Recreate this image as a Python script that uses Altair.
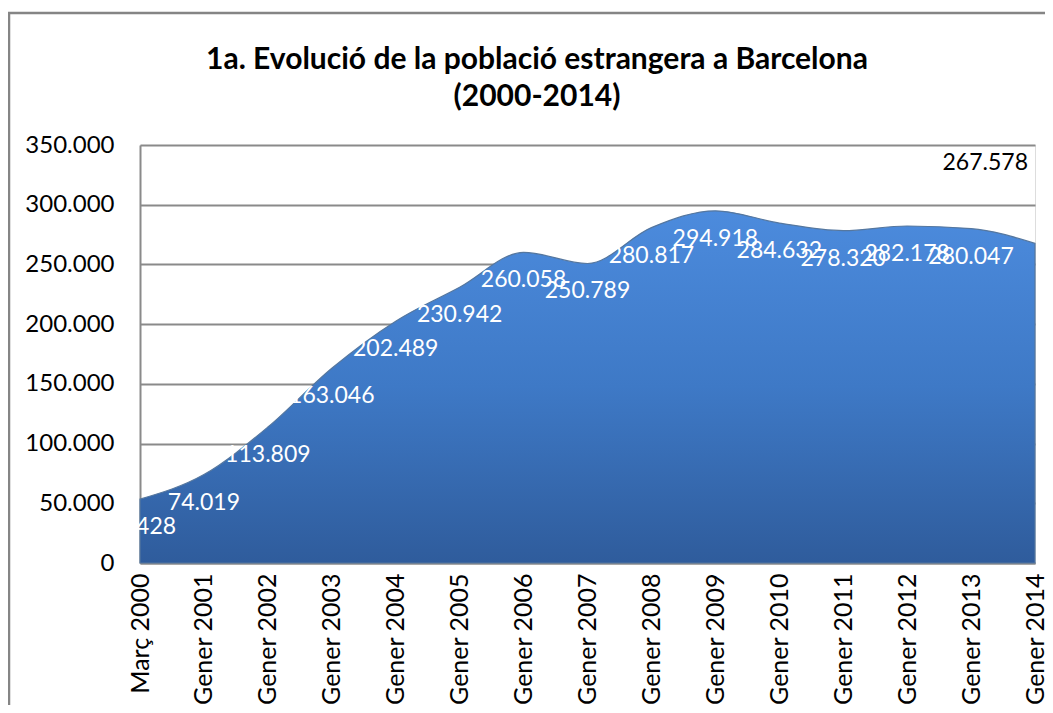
import altair as alt
import pandas as pd

periods = ["Març 2000", "Gener 2001", "Gener 2002", "Gener 2003", "Gener 2004",
           "Gener 2005", "Gener 2006", "Gener 2007", "Gener 2008", "Gener 2009",
           "Gener 2010", "Gener 2011", "Gener 2012", "Gener 2013", "Gener 2014"]
population = [53428, 74019, 113809, 163046, 202489, 230942, 260058, 250789,
              280817, 294918, 284632, 278320, 282178, 280047, 267578]
title_lines = ["1a. Evolució de la població estrangera a Barcelona", "(2000-2014)"]

df = pd.DataFrame({"periode": periods, "poblacio": population,
                   "last": [False] * (len(periods) - 1) + [True]})

FONT = "Lato"

x_enc = alt.X("periode:N", sort=None,
              scale=alt.Scale(type="point", padding=0),
              axis=alt.Axis(title=None, labelAngle=-90, labelFontSize=25,
                            labelFont=FONT, labelColor="black", labelPadding=10,
                            ticks=False, domainColor="#8a8a8a", domainWidth=2,
                            grid=False))
y_enc = alt.Y("poblacio:Q",
              scale=alt.Scale(domain=[0, 350000], nice=False),
              axis=alt.Axis(title=None, values=[0, 50000, 100000, 150000, 200000,
                                                250000, 300000, 350000],
                            format=",d", labelFontSize=24, labelFont=FONT,
                            labelColor="black", labelPadding=26, ticks=False,
                            domainColor="#8a8a8a", domainWidth=2,
                            gridColor="#8a8a8a", gridWidth=2))

base = alt.Chart(df).encode(x=x_enc, y=y_enc)

area = base.mark_area(
    color=alt.Gradient(gradient="linear",
                       stops=[alt.GradientStop(color="#4C8BDD", offset=0),
                              alt.GradientStop(color="#3E79C6", offset=0.5),
                              alt.GradientStop(color="#2F5C9C", offset=1)],
                       x1=0, x2=0, y1=0, y2=1),
    stroke="#55779f", strokeWidth=1.2, interpolate="monotone")

labels = base.mark_text(font=FONT, fontSize=23, color="white",
                        align="center", baseline="middle", dy=28).encode(
    text=alt.Text("poblacio:Q", format=",d")
).transform_filter("!datum.last")

last_label = base.mark_text(font=FONT, fontSize=23, color="black",
                            align="right", baseline="middle", dx=-7, dy=-80).encode(
    text=alt.Text("poblacio:Q", format=",d")
).transform_filter("datum.last")

title1 = alt.Chart(pd.DataFrame({"t": [title_lines[0]]})).mark_text(
    font=FONT, fontSize=30, fontWeight="bold", color="black",
    align="center", baseline="middle"
).encode(text="t:N", x=alt.value(397), y=alt.value(-85))

title2 = alt.Chart(pd.DataFrame({"t": [title_lines[1]]})).mark_text(
    font=FONT, fontSize=30, fontWeight="bold", color="black",
    align="center", baseline="middle"
).encode(text="t:N", x=alt.value(397), y=alt.value(-48))

border = alt.Chart(pd.DataFrame({"a": [0]})).mark_rect(
    fill=None, stroke="#858585", strokeWidth=2.5
).encode(x=alt.value(-131), x2=alt.value(940), y=alt.value(-132), y2=alt.value(640))

chart = alt.layer(area, labels, last_label, title1, title2, border).properties(
    width=895, height=418,
    autosize=alt.AutoSizeParams(type="none"),
    padding={"left": 132, "top": 137, "right": 10, "bottom": 142}
).configure_view(stroke=None).configure(
    locale={"number": {"decimal": ",", "thousands": ".", "grouping": [3],
                       "currency": ["", " €"]}}
)

chart.save("out.html", embed_options={"renderer": "svg", "actions": False})
